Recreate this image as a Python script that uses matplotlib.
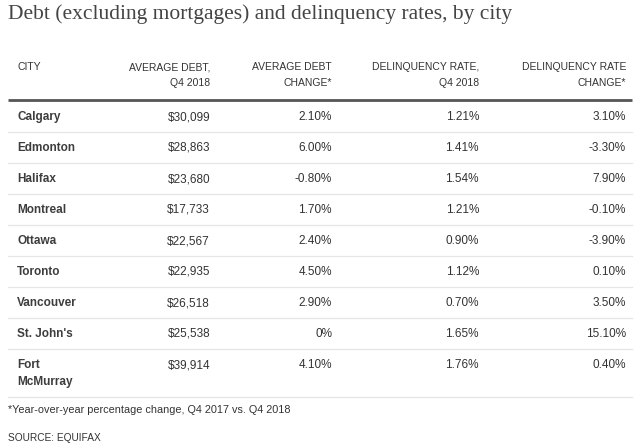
import matplotlib.pyplot as plt

BODY = 'Liberation Sans'
TITLE_FONT = 'Liberation Serif'

title = 'Debt (excluding mortgages) and delinquency rates, by city'
headers = [['CITY'], ['AVERAGE DEBT,', 'Q4 2018'], ['AVERAGE DEBT', 'CHANGE*'],
           ['DELINQUENCY RATE,', 'Q4 2018'], ['DELINQUENCY RATE', 'CHANGE*']]
cities = ['Calgary', 'Edmonton', 'Halifax', 'Montreal', 'Ottawa', 'Toronto',
          'Vancouver', "St. John's", 'Fort\nMcMurray']
avg_debt = ['$30,099', '$28,863', '$23,680', '$17,733', '$22,567', '$22,935',
            '$26,518', '$25,538', '$39,914']
debt_change = ['2.10%', '6.00%', '-0.80%', '1.70%', '2.40%', '4.50%',
               '2.90%', '0%', '4.10%']
delinq_rate = ['1.21%', '1.41%', '1.54%', '1.21%', '0.90%', '1.12%',
               '0.70%', '1.65%', '1.76%']
delinq_change = ['3.10%', '-3.30%', '7.90%', '-0.10%', '-3.90%', '0.10%',
                 '3.50%', '15.10%', '0.40%']
footnote = '*Year-over-year percentage change, Q4 2017 vs. Q4 2018'
source = 'SOURCE: EQUIFAX'

W, H = 640, 448
fig = plt.figure(figsize=(W / 100, H / 100), dpi=100)
ax = fig.add_axes([0, 0, 1, 1])
ax.set_xlim(0, W)
ax.set_ylim(H, 0)
ax.axis('off')

txt = '#333333'
ax.text(8, 14, title, fontsize=15.5, family=TITLE_FONT, color='#444444',
        va='center', ha='left')

col_x = [17, 210, 332, 479, 626]
col_ha = ['left', 'right', 'right', 'right', 'right']
for x, ha, lines in zip(col_x, col_ha, headers):
    for k, line in enumerate(lines):
        ax.text(x, 67 + k * 16, line, fontsize=7.5, family=BODY, color=txt,
                ha=ha, va='center')

ax.plot([8, 632], [100.5, 100.5], color='#555555', lw=2.0, solid_capstyle='butt')

row_y = 117
step = 31
for i in range(len(cities)):
    y = row_y + i * step
    for k, part in enumerate(cities[i].split('\n')):
        ax.text(col_x[0], y + k * 17, part, fontsize=8.5, family=BODY,
                weight='bold', color='#3d3d3d', ha='left', va='center')
    for j, vals in enumerate([avg_debt, debt_change, delinq_rate, delinq_change]):
        ax.text(col_x[j + 1], y, vals[i], fontsize=8.5, family=BODY, color=txt,
                ha='right', va='center')
    sep = y + 15.5 + 17 * cities[i].count('\n')
    ax.plot([8, 632], [sep, sep], color='#e6e6e6', lw=0.9)

ax.text(8, 410, footnote, fontsize=7.8, family=BODY, color=txt, va='center', ha='left')
ax.text(8, 438, source, fontsize=7.3, family=BODY, color=txt, va='center', ha='left')

fig.savefig('out.png', dpi=100, facecolor='white')
